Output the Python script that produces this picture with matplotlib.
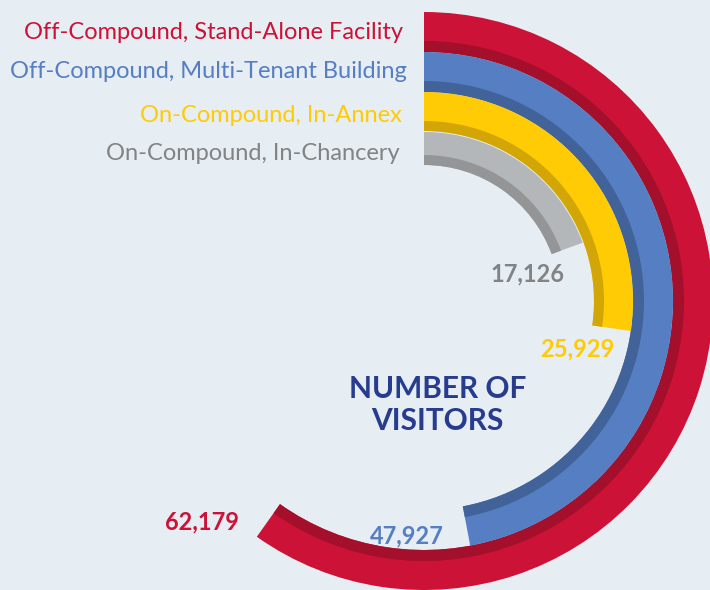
import numpy as np
import matplotlib
matplotlib.use("Agg")
import matplotlib.pyplot as plt

# ---- data ----
categories = ["Off-Compound, Stand-Alone Facility",
              "Off-Compound, Multi-Tenant Building",
              "On-Compound, In-Annex",
              "On-Compound, In-Chancery"]
visitors = [62179, 47927, 25929, 17126]
value_labels = [f"{v:,}" for v in visitors]
center_label = "NUMBER OF\nVISITORS"

# ---- style ----
W, H = 710, 590
BG = "#E6EDF3"
light_cols = ["#CC1236", "#557EC3", "#FFCB05", "#B3B7B9"]
dark_cols = ["#A40F2C", "#42639A", "#D1A606", "#939597"]
text_cols = ["#CC1236", "#557EC3", "#FFCB05", "#818385"]
outer_r = [289, 249, 209, 169]
inner_r = [249, 209, 170, 136]
strip = [11, 11, 10, 10]
OFFSET_DEG = 14.5
DEG_PER_VISITOR = 0.00323

cx, cy = 424, 301
R = 300

fig = plt.figure(figsize=(W / 100, H / 100), dpi=100, facecolor=BG)
ax = fig.add_axes([(cx - R) / W, (H - cy - R) / H, 2 * R / W, 2 * R / H],
                  projection="polar")
ax.set_theta_zero_location("N")
ax.set_theta_direction(-1)
ax.set_rlim(0, R)
ax.axis("off")

for i, v in enumerate(visitors):
    span = np.deg2rad(OFFSET_DEG + v * DEG_PER_VISITOR)
    ax.bar(0, outer_r[i] - inner_r[i], width=span, bottom=inner_r[i],
           align="edge", color=light_cols[i], linewidth=0, clip_on=False)
    ax.bar(0, strip[i], width=span, bottom=inner_r[i],
           align="edge", color=dark_cols[i], linewidth=0, clip_on=False)

def px(x, y):
    return x / W, 1 - y / H

# category labels
label_pos = [(403, 39), (407, 78), (402, 122), (400, 160)]
for i, name in enumerate(categories):
    fig.text(*px(*label_pos[i]), name, ha="right", va="baseline",
             fontsize=17, family="Lato", color=text_cols[i])

# value labels
val_pos = [(165, 529), (370, 543), (540, 356), (490, 281)]
for i, lab in enumerate(value_labels):
    fig.text(*px(*val_pos[i]), lab, ha="left", va="baseline",
             fontsize=17, family="Lato", weight="bold", color=text_cols[i])

lines = center_label.split("\n")
fig.text(*px(437.5, 398), lines[0], ha="center", va="baseline",
         fontsize=21.5, family="Lato", weight="bold", color="#273C8F")
fig.text(*px(437.5, 430), lines[1], ha="center", va="baseline",
         fontsize=21.5, family="Lato", weight="bold", color="#273C8F")

fig.savefig("out.png", dpi=100, facecolor=BG)
